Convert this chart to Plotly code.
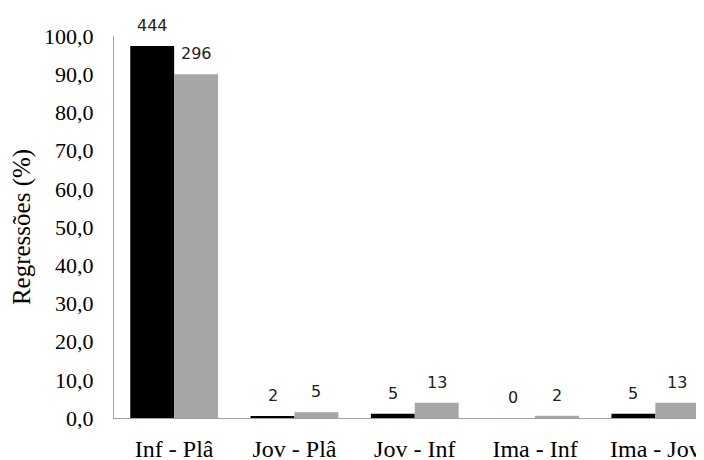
import plotly.graph_objects as go

categories = ["Inf - Plâ", "Jov - Plâ", "Jov - Inf", "Ima - Inf", "Ima - Jov"]
series1_pct = [97.4, 0.4, 1.1, 0.0, 1.1]
series2_pct = [90.0, 1.5, 4.0, 0.6, 4.0]
series1_counts = [444, 2, 5, 0, 5]
series2_counts = [296, 5, 13, 2, 13]
y_tick_vals = [0, 10, 20, 30, 40, 50, 60, 70, 80, 90, 100]

BARGAP = 0.27
half_bar = (1 - BARGAP) / 4.0
SERIF = "Liberation Serif"

fig = go.Figure()
fig.add_trace(go.Bar(x=categories, y=series1_pct, marker=dict(color="#000000", line=dict(width=0)),
                     showlegend=False))
fig.add_trace(go.Bar(x=categories, y=series2_pct, marker=dict(color="#a6a6a6", line=dict(width=0)),
                     showlegend=False))

annotations = []
for i, (v1, v2, c1, c2) in enumerate(zip(series1_pct, series2_pct, series1_counts, series2_counts)):
    for xv, yv, cnt in ((i - half_bar, v1, c1), (i + half_bar, v2, c2)):
        annotations.append(dict(x=xv, y=yv, xref="x", yref="y", text=str(cnt), showarrow=False,
                                yanchor="bottom", yshift=9,
                                font=dict(family="DejaVu Sans", size=16, color="#222222")))

# page body has an 8px margin, so the figure is sized to fit the 704x460 window
fig.update_layout(
    width=696, height=452,
    margin=dict(l=106, r=0, t=28, b=42),
    paper_bgcolor="white", plot_bgcolor="white",
    barmode="group", bargap=BARGAP, bargroupgap=0,
    separators=",.",
    annotations=annotations,
    xaxis=dict(type="category", range=[-0.5, -0.5 + 590 / 120.3], showgrid=False, zeroline=False,
               showline=True, linecolor="#a0a0a0", linewidth=1, ticks="", automargin=False,
               ticklabelstandoff=9,
               tickfont=dict(family=SERIF, size=24, color="#000000")),
    yaxis=dict(range=[0, 100], tickvals=y_tick_vals, tickformat=".1f", showgrid=False, zeroline=False,
               showline=True, linecolor="#a0a0a0", linewidth=1, ticks="", automargin=False,
               ticklabelstandoff=15,
               tickfont=dict(family=SERIF, size=22, color="#000000"),
               title=dict(text="Regressões (%)", standoff=9,
                          font=dict(family=SERIF, size=25, color="#000000"))),
)

fig.write_html("out.html")
